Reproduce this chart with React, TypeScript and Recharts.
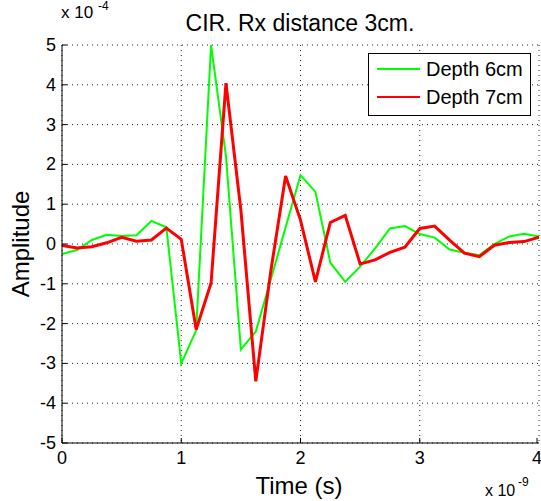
import { LineChart, Line, XAxis, YAxis, CartesianGrid, Legend } from 'recharts'

// time axis in ns (x 10^-9 s), amplitude in units of 10^-4
const TIME_NS = [
  0, 0.125, 0.25, 0.375, 0.5, 0.625, 0.75, 0.875, 1, 1.125, 1.25, 1.375, 1.5, 1.625, 1.75, 1.875, 2,
  2.125, 2.25, 2.375, 2.5, 2.625, 2.75, 2.875, 3, 3.125, 3.25, 3.375, 3.5, 3.625, 3.75, 3.875, 4,
]
const DEPTH_6CM = [
  -0.25, -0.15, 0.1, 0.23, 0.2, 0.22, 0.58, 0.42, -3.0, -2.17, 5.0, 2.2, -2.65, -2.2, -0.9, 0.42, 1.73,
  1.31, -0.47, -0.95, -0.57, -0.11, 0.39, 0.45, 0.25, 0.16, -0.14, -0.22, -0.28, 0.0, 0.19, 0.26, 0.19,
]
const DEPTH_7CM = [
  -0.04, -0.1, -0.07, 0.03, 0.17, 0.07, 0.1, 0.4, 0.12, -2.15, -0.98, 4.04, 0.85, -3.45, -0.7, 1.71, 0.6,
  -0.95, 0.54, 0.72, -0.5, -0.4, -0.21, -0.08, 0.39, 0.45, 0.1, -0.23, -0.32, -0.03, 0.04, 0.06, 0.17,
]
const X_TICKS = [0, 1, 2, 3, 4]
const Y_TICKS = [-5, -4, -3, -2, -1, 0, 1, 2, 3, 4, 5]

const SERIES = [
  { key: 'd6', name: 'Depth 6cm', color: '#00ff00', width: 2 },
  { key: 'd7', name: 'Depth 7cm', color: '#ff0000', width: 3 },
]

const FONT = '"Liberation Sans", Arial, Helvetica, sans-serif'
const TICK_LEN = 5

const data = TIME_NS.map((t, i) => ({ t, d6: DEPTH_6CM[i], d7: DEPTH_7CM[i] }))

function BottomTick({ x, y, payload }: any) {
  return (
    <g>
      <line x1={x} y1={y} x2={x} y2={y - TICK_LEN} stroke="#000" />
      <text x={x} y={y + 21} textAnchor="middle" fontSize={18} fontFamily={FONT} fill="#000">
        {payload.value}
      </text>
    </g>
  )
}

function TopTick({ x, y }: any) {
  return <line x1={x} y1={y} x2={x} y2={y + TICK_LEN} stroke="#000" />
}

function LeftTick({ x, y, payload }: any) {
  return (
    <g>
      <line x1={x} y1={y} x2={x + TICK_LEN} y2={y} stroke="#000" />
      <text x={x - 6} y={y + 6} textAnchor="end" fontSize={18} fontFamily={FONT} fill="#000">
        {payload.value}
      </text>
    </g>
  )
}

function RightTick({ x, y }: any) {
  return <line x1={x} y1={y} x2={x - TICK_LEN} y2={y} stroke="#000" />
}

function LegendBox() {
  return (
    <div
      style={{
        border: '1px solid #000',
        background: '#fff',
        width: 161,
        height: 60,
        boxSizing: 'content-box',
        fontFamily: FONT,
        fontSize: 20,
        paddingTop: 1,
      }}
    >
      {SERIES.map((s) => (
        <div key={s.key} style={{ display: 'flex', alignItems: 'center', height: 28 }}>
          <span style={{ display: 'inline-block', width: 43, height: 2, background: s.color, marginLeft: 8 }} />
          <span style={{ marginLeft: 6 }}>{s.name}</span>
        </div>
      ))}
    </div>
  )
}

export default function App() {
  return (
    <div style={{ position: 'absolute', left: 0, top: 0, width: 541, height: 501, background: '#fff' }}>
      <LineChart width={541} height={501} data={data} margin={{ top: 45, right: 2, bottom: 0, left: 0 }}>
        <CartesianGrid stroke="#222" strokeDasharray="1 4" />
        <XAxis
          dataKey="t"
          type="number"
          domain={[0, 4]}
          ticks={X_TICKS}
          height={58}
          tickSize={0}
          tickMargin={0}
          tick={<BottomTick />}
          axisLine={{ stroke: '#000' }}
          allowDataOverflow
        />
        <XAxis
          xAxisId="top"
          orientation="top"
          dataKey="t"
          type="number"
          domain={[0, 4]}
          ticks={X_TICKS}
          height={0}
          tickSize={0}
          tickMargin={0}
          tick={<TopTick />}
          axisLine={{ stroke: '#000' }}
        />
        <YAxis
          type="number"
          domain={[-5, 5]}
          ticks={Y_TICKS}
          width={62}
          tickSize={0}
          tickMargin={0}
          tick={<LeftTick />}
          axisLine={{ stroke: '#000' }}
          allowDataOverflow
        />
        <YAxis
          yAxisId="right"
          orientation="right"
          type="number"
          domain={[-5, 5]}
          ticks={Y_TICKS}
          width={0}
          tickSize={0}
          tickMargin={0}
          tick={<RightTick />}
          axisLine={{ stroke: '#000' }}
        />
        <Legend
          layout="vertical"
          align="center"
          verticalAlign="middle"
          content={<LegendBox />}
          wrapperStyle={{ left: 368, top: 53, width: 163, height: 62 }}
        />
        {SERIES.map((s) => (
          <Line
            key={s.key}
            dataKey={s.key}
            name={s.name}
            type="linear"
            stroke={s.color}
            strokeWidth={s.width}
            dot={false}
            activeDot={false}
            isAnimationActive={false}
          />
        ))}
      </LineChart>
      <svg
        width={541}
        height={501}
        style={{ position: 'absolute', left: 0, top: 0, pointerEvents: 'none' }}
        fontFamily={FONT}
      >
        <text x={300} y={31} textAnchor="middle" fontSize={23}>
          CIR. Rx distance 3cm.
        </text>
        <text x={61} y={18} fontSize={17}>
          x 10
        </text>
        <text x={98} y={10} fontSize={12}>
          -4
        </text>
        <text x={299} y={494} textAnchor="middle" fontSize={24}>
          Time (s)
        </text>
        <text x={485} y={496} fontSize={16}>
          x 10
        </text>
        <text x={518} y={486} fontSize={12}>
          -9
        </text>
        <text x={29} y={244} textAnchor="middle" fontSize={24} transform="rotate(-90 29 244)">
          Amplitude
        </text>
      </svg>
    </div>
  )
}
